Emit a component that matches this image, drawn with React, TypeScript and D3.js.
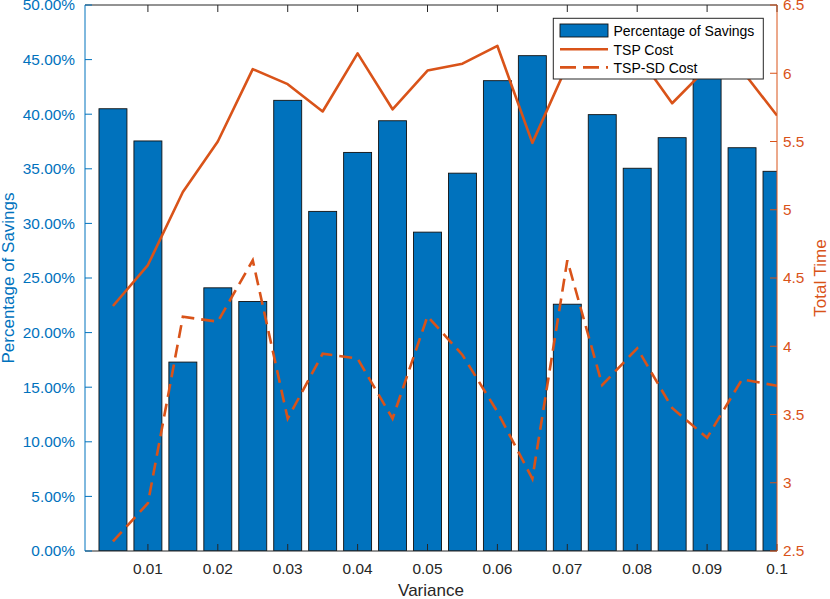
import * as d3 from "d3";

// variance levels (x)
const variance = [
  0.005, 0.01, 0.015, 0.02, 0.025, 0.03, 0.035, 0.04, 0.045, 0.05, 0.055, 0.06,
  0.065, 0.07, 0.075, 0.08, 0.085, 0.09, 0.095, 0.1,
];
// percentage of savings (left axis, %)
const savings = [
  40.5, 37.55, 17.3, 24.1, 22.85, 41.27, 31.1, 36.5, 39.4, 29.2, 34.6, 43.07,
  45.36, 22.6, 39.96, 35.05, 37.85, 44.0, 36.93, 34.77,
];
// total time (right axis)
const tspCost = [
  4.295, 4.595, 5.13, 5.5, 6.03, 5.92, 5.72, 6.146, 5.736, 6.02, 6.07, 6.2,
  5.49, 6.06, 6.1, 6.14, 5.78, 6.04, 6.02, 5.69,
];
const tspSdCost = [
  2.57, 2.85, 4.216, 4.18, 4.63, 3.47, 3.945, 3.91, 3.47, 4.22, 3.936, 3.52,
  3.03, 4.63, 3.716, 3.985, 3.548, 3.33, 3.758, 3.71,
];
const xTicks = [0.01, 0.02, 0.03, 0.04, 0.05, 0.06, 0.07, 0.08, 0.09, 0.1];
const leftTicks = [0, 5, 10, 15, 20, 25, 30, 35, 40, 45, 50];
const rightTicks = [2.5, 3, 3.5, 4, 4.5, 5, 5.5, 6, 6.5];

const W = 830;
const H = 599;
const m = { left: 85, right: 777, top: 5, bottom: 551 };
const BLUE = "#0072BD";
const ORANGE = "#D95319";
const DARK = "#262626";
const FONT = "'Liberation Sans', Arial, Helvetica, sans-serif";

export default function App() {
  const x = d3.scaleLinear().domain([0.001, 0.1]).range([m.left, m.right]);
  const yL = d3.scaleLinear().domain([0, 50]).range([m.bottom, m.top]);
  const yR = d3.scaleLinear().domain([2.5, 6.5]).range([m.bottom, m.top]);
  const barW = x(0.004) - x(0);
  const tick = 7;

  const line = (vals: number[]) =>
    d3
      .line<number>()
      .x((_, i) => x(variance[i]))
      .y((d) => yR(d))(vals) || "";

  return (
    <svg
      width={W}
      height={H}
      style={{ position: "absolute", left: 0, top: 0, fontFamily: FONT }}
    >
      <defs>
        <clipPath id="plot">
          <rect x={m.left} y={m.top} width={m.right - m.left} height={m.bottom - m.top} />
        </clipPath>
      </defs>
      <rect width={W} height={H} fill="#fff" />

      <g clipPath="url(#plot)">
        {savings.map((v, i) => (
          <rect
            key={i}
            x={x(variance[i]) - barW / 2}
            y={yL(v)}
            width={barW}
            height={yL(0) - yL(v)}
            fill={BLUE}
            stroke="#111"
            strokeWidth={0.9}
          />
        ))}
        <path d={line(tspCost)} fill="none" stroke={ORANGE} strokeWidth={2.6} strokeLinejoin="round" />
        <path
          d={line(tspSdCost)}
          fill="none"
          stroke={ORANGE}
          strokeWidth={2.6}
          strokeDasharray="13,7"
        />
      </g>

      {/* box and x ticks */}
      <line x1={m.left} x2={m.right} y1={m.bottom} y2={m.bottom} stroke={DARK} />
      <line x1={m.left} x2={m.right} y1={m.top} y2={m.top} stroke={DARK} />
      {xTicks.map((t) => (
        <g key={t}>
          <line x1={x(t)} x2={x(t)} y1={m.bottom} y2={m.bottom - tick} stroke={DARK} />
          <line x1={x(t)} x2={x(t)} y1={m.top} y2={m.top + tick} stroke={DARK} />
          <text x={x(t)} y={574} textAnchor="middle" fontSize={15.4} fill={DARK}>
            {t === 0.1 ? "0.1" : t.toFixed(2)}
          </text>
        </g>
      ))}
      <text x={(m.left + m.right) / 2} y={596} textAnchor="middle" fontSize={17} fill={DARK}>
        Variance
      </text>

      {/* left axis */}
      <line x1={m.left} x2={m.left} y1={m.top} y2={m.bottom} stroke={BLUE} />
      {leftTicks.map((t) => (
        <g key={t}>
          <line x1={m.left} x2={m.left + tick} y1={yL(t)} y2={yL(t)} stroke={BLUE} />
          <text x={75} y={yL(t) + 5.3} textAnchor="end" fontSize={15.4} fill={BLUE}>
            {t.toFixed(2) + "%"}
          </text>
        </g>
      ))}
      <text
        transform={`translate(13.5,${(m.top + m.bottom) / 2}) rotate(-90)`}
        textAnchor="middle"
        fontSize={17}
        fill={BLUE}
      >
        Percentage of Savings
      </text>

      {/* right axis */}
      <line x1={m.right} x2={m.right} y1={m.top} y2={m.bottom} stroke={ORANGE} />
      {rightTicks.map((t) => (
        <g key={t}>
          <line x1={m.right} x2={m.right - tick} y1={yR(t)} y2={yR(t)} stroke={ORANGE} />
          <text x={783} y={yR(t) + 5.3} textAnchor="start" fontSize={15.4} fill={ORANGE}>
            {String(t)}
          </text>
        </g>
      ))}
      <text
        transform={`translate(826,${(m.top + m.bottom) / 2}) rotate(-90)`}
        textAnchor="middle"
        fontSize={17}
        fill={ORANGE}
      >
        Total Time
      </text>

      {/* legend */}
      <g>
        <rect x={553.3} y={18.3} width={210} height={60.7} fill="#fff" stroke={DARK} strokeWidth={1} />
        <rect x={560} y={24} width={48} height={13} fill={BLUE} stroke="#111" strokeWidth={0.9} />
        <text x={613.5} y={36} fontSize={14} fill="#000">
          Percentage of Savings
        </text>
        <line x1={560} x2={608} y1={49.3} y2={49.3} stroke={ORANGE} strokeWidth={2.6} />
        <text x={613.5} y={54.5} fontSize={14} fill="#000">
          TSP Cost
        </text>
        <line
          x1={560}
          x2={608}
          y1={67.4}
          y2={67.4}
          stroke={ORANGE}
          strokeWidth={2.6}
          strokeDasharray="16,7"
        />
        <text x={613.5} y={72.8} fontSize={14} fill="#000">
          TSP-SD Cost
        </text>
      </g>
    </svg>
  );
}
